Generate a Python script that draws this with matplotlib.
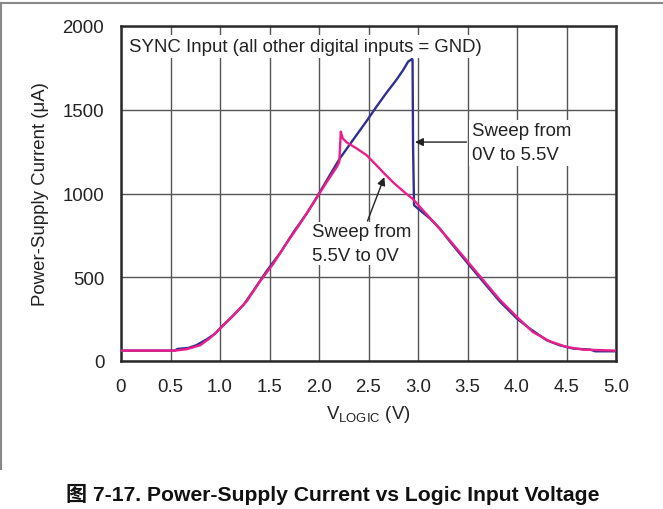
import matplotlib
matplotlib.use("Agg")
import matplotlib.pyplot as plt
from matplotlib.lines import Line2D

# ---- data ----
up_v = [0.0, 0.545, 0.57, 0.68, 0.76, 0.865, 0.95, 1.03, 1.13, 1.24, 1.34, 1.47, 1.61, 1.74,
        1.875, 1.98, 2.11, 2.21, 2.35, 2.48, 2.58, 2.68, 2.78, 2.85, 2.90, 2.94, 2.945,
        2.95, 2.96, 3.00, 3.12, 3.22, 3.32, 3.49, 3.66, 3.83, 4.00, 4.13, 4.30, 4.43,
        4.57, 4.74, 4.79, 5.0]
up_i = [62, 62, 72, 78, 94, 129, 163, 213, 269, 337, 422, 536, 647, 767,
        880, 980, 1110, 1209, 1325, 1432, 1518, 1600, 1677, 1737, 1787, 1803, 1797,
        1289, 930, 910, 851, 791, 715, 592, 472, 353, 253, 193, 124, 94,
        74, 68, 58, 58]

down_v = [0.0, 0.545, 0.66, 0.80, 0.90, 1.0, 1.13, 1.27, 1.40, 1.54, 1.67, 1.81, 1.94, 2.08,
          2.18, 2.205, 2.22, 2.24, 2.28, 2.38, 2.48, 2.58, 2.65, 2.75, 2.85, 2.95, 3.05,
          3.15, 3.32, 3.49, 3.66, 3.83, 4.00, 4.16, 4.33, 4.50, 4.67, 5.0]
down_i = [62, 62, 70, 94, 137, 193, 269, 357, 472, 582, 701, 821, 940, 1070,
          1159, 1189, 1369, 1329, 1305, 1269, 1229, 1169, 1125, 1066, 1014, 966, 900,
          835, 721, 602, 482, 363, 263, 173, 118, 84, 68, 62]

x_ticks = [0, 0.5, 1.0, 1.5, 2.0, 2.5, 3.0, 3.5, 4.0, 4.5, 5.0]
x_tick_labels = ["0", "0.5", "1.0", "1.5", "2.0", "2.5", "3.0", "3.5", "4.0", "4.5", "5.0"]
y_ticks = [0, 500, 1000, 1500, 2000]
y_tick_labels = ["0", "500", "1000", "1500", "2000"]

plt.rcParams['font.family'] = ['Liberation Sans', 'Noto Sans CJK SC', 'DejaVu Sans']
plt.rcParams['mathtext.fontset'] = 'custom'
plt.rcParams['mathtext.rm'] = 'Liberation Sans'

FS = 13.4
W, H = 663, 510
fig = plt.figure(figsize=(W / 100, H / 100), dpi=100)
ax = fig.add_axes([121 / W, 1 - 362 / H, (616 - 121) / W, (362 - 27) / H])

ax.set_xlim(0, 5.0)
ax.set_ylim(0, 2000)
ax.set_xticks(x_ticks)
ax.set_xticklabels(x_tick_labels)
ax.set_yticks(y_ticks)
ax.set_yticklabels(y_tick_labels)
ax.tick_params(length=0, pad=12, labelsize=FS, colors='#222')
ax.grid(True, color='#555', lw=1.0)
ax.set_axisbelow(True)
for s in ax.spines.values():
    s.set_linewidth(1.8)
    s.set_color('#2a2a2a')

ax.plot(up_v, up_i, color='#2E3192', lw=1.7, zorder=3)
ax.plot(down_v, down_i, color='#EC1E8C', lw=1.7, zorder=4)

ax.set_xlabel(r'$\mathregular{V_{LOGIC}}$ (V)', fontsize=FS, color='#222', labelpad=6)
ax.set_ylabel('Power-Supply Current (μA)', fontsize=FS, color='#222', labelpad=10)

ax.text(0.08, 1930, 'SYNC Input (all other digital inputs = GND)', fontsize=FS,
        color='#222', ha='left', va='top', zorder=5,
        bbox=dict(facecolor='white', edgecolor='none', pad=2))

ax.text(3.545, 1425, 'Sweep from\n0V to 5.5V', fontsize=FS, color='#222',
        ha='left', va='top', linespacing=1.55, zorder=5,
        bbox=dict(facecolor='white', edgecolor='none', pad=2))
ax.annotate('', xy=(2.97, 1307), xytext=(3.49, 1307),
            arrowprops=dict(arrowstyle='-|>', color='#222', lw=1.0, mutation_scale=12,
                            shrinkA=0, shrinkB=0), zorder=6)

ax.text(1.93, 825, 'Sweep from\n5.5V to 0V', fontsize=FS, color='#222',
        ha='left', va='top', linespacing=1.55, zorder=5,
        bbox=dict(facecolor='white', edgecolor='none', pad=1))
ax.annotate('', xy=(2.66, 1098), xytext=(2.49, 836),
            arrowprops=dict(arrowstyle='-|>', color='#222', lw=1.0, mutation_scale=12,
                            shrinkA=0, shrinkB=0), zorder=6)

# frame lines of the figure cell
fig.add_artist(Line2D([0, 1], [1 - 4 / H, 1 - 4 / H], transform=fig.transFigure,
                      color='#888', lw=1.5))
fig.add_artist(Line2D([1 / W, 1 / W], [1 - 4 / H, 1 - 470 / H], transform=fig.transFigure,
                      color='#888', lw=1.5))

fig.text(333 / W, 1 - 494 / H, '图 7-17. Power-Supply Current vs Logic Input Voltage',
         ha='center', va='center', fontsize=15.2, fontweight='bold', color='#111')

fig.savefig('out.png', dpi=100)
